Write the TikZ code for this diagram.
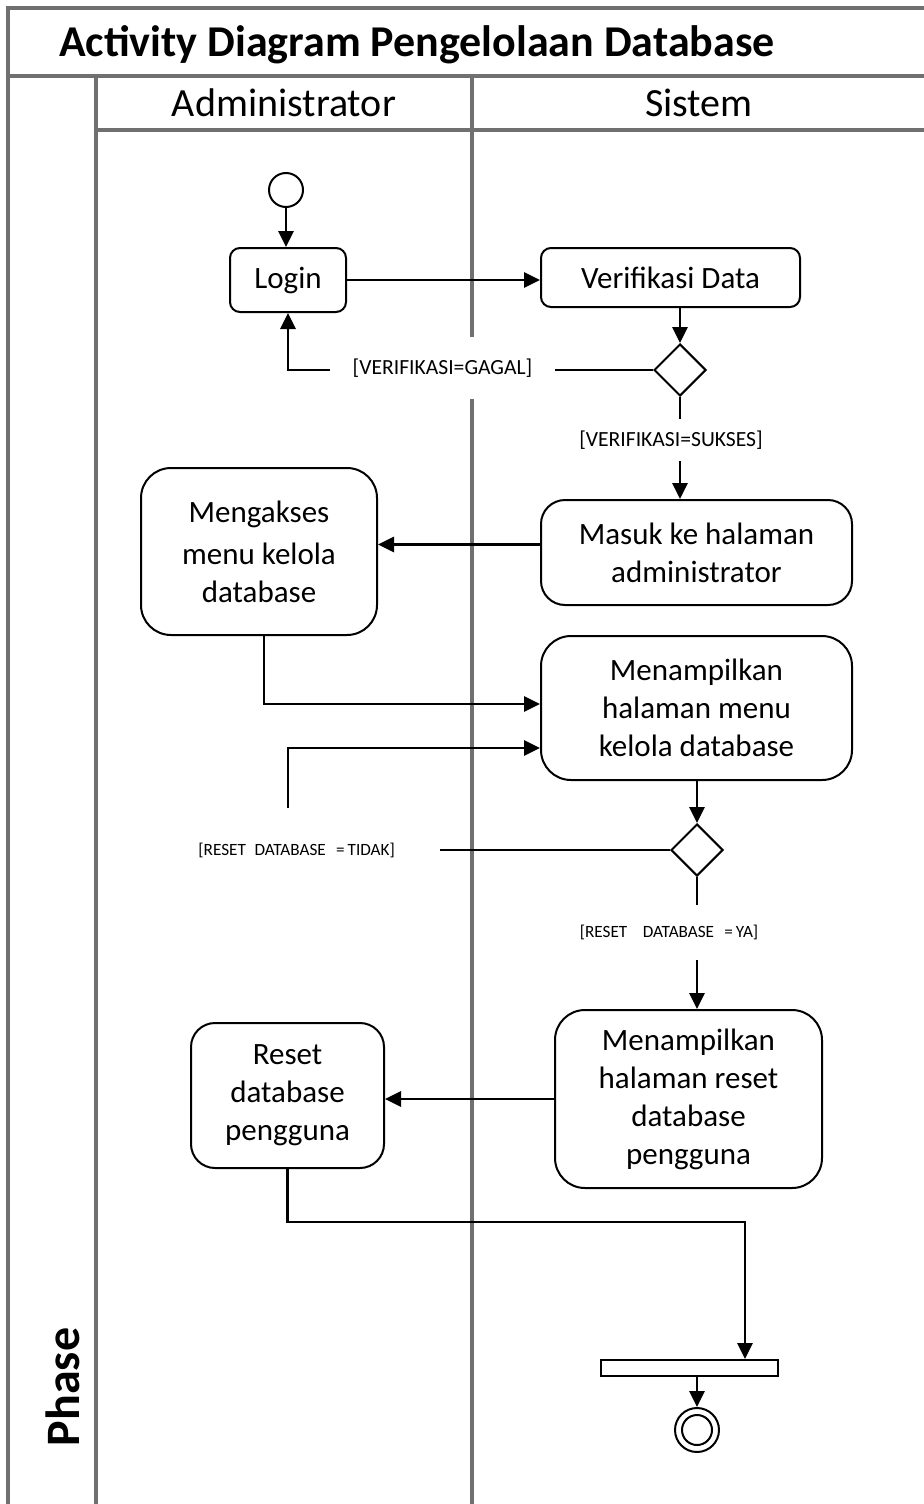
\documentclass[tikz,border=0pt]{standalone}
\usepackage{fontspec}
\setmainfont{Carlito}
\usetikzlibrary{shapes.geometric,arrows.meta}

\definecolor{framegray}{RGB}{112,112,112}

\tikzset{
  frameline/.style={draw=framegray, line width=1.6pt},
  actbox/.style={draw, line width=1pt, rectangle, align=center, font=\fontsize{15.5}{19}\selectfont},
  decision/.style={draw, line width=1pt, diamond, aspect=1, inner sep=0pt, minimum width=26pt, minimum height=26pt},
  flow/.style={line width=1.4pt},
  arr/.style={flow, -{Triangle[length=8pt,width=7.5pt]}},
  guard/.style={font=\fontsize{10.8}{12}\selectfont, fill=white, inner sep=0pt},
  guardsmall/.style={font=\fontsize{8.6}{10}\selectfont, fill=white, inner sep=0pt},
}

\begin{document}
\begin{tikzpicture}[x=0.5pt, y=-0.5pt]
  \useasboundingbox (0,0) rectangle (924,1504);

  % swimlane frame
  \draw[frameline] (924,8) -- (8,8) -- (8,1504);
  \draw[frameline] (8,76) -- (924,76);
  \draw[frameline] (96,76) -- (96,1504);
  \draw[frameline] (96,130) -- (924,130);
  \draw[frameline] (472,76) -- (472,1504);

  \node[anchor=west, font=\fontsize{22}{25}\selectfont\bfseries] (title) at (52,45) {Activity Diagram Pengelolaan Database};
  \node[font=\fontsize{20}{24}\selectfont] (laneA) at (284,103) {Administrator};
  \node[font=\fontsize{20}{24}\selectfont] (laneS) at (699,103) {Sistem};
  \node[rotate=90, font=\fontsize{24}{28}\selectfont\bfseries] (phase) at (63,1387) {Phase};

  % activities
  \node[draw, line width=1pt, circle, minimum size=17pt, inner sep=0pt] (start) at (286,190) {};
  \node[actbox, rounded corners=5pt, minimum width=58pt, minimum height=32pt] (login) at (288,280) {Login};
  \node[actbox, rounded corners=5pt, minimum width=129.5pt, minimum height=29.5pt] (verif) at (670.5,277.5) {Verifikasi Data};
  \node[decision] (d1) at (680,370) {};
  \node[actbox, rounded corners=12pt, minimum width=155.5pt, minimum height=52.5pt] (masuk) at (696.5,552.5) {Masuk ke halaman\\administrator};
  \node[actbox, rounded corners=15pt, minimum width=118pt, minimum height=83.5pt] (akses) at (259,551.5) {Mengakses\\[2pt]menu kelola\\database};
  \node[actbox, rounded corners=15pt, minimum width=155.5pt, minimum height=72pt] (menu) at (696.5,708) {Menampilkan\\halaman menu\\kelola database};
  \node[decision] (d2) at (697,850) {};
  \node[actbox, rounded corners=15pt, minimum width=133.5pt, minimum height=89pt] (resetpage) at (688.5,1099) {Menampilkan\\halaman reset\\database\\pengguna};
  \node[actbox, rounded corners=12pt, minimum width=96.5pt, minimum height=72.5pt] (reset) at (287.5,1095.5) {Reset\\database\\pengguna};
  \node[draw, line width=1pt, rectangle, minimum width=88.5pt, minimum height=8pt, inner sep=0pt] (bar) at (689.5,1368) {};
  \node[draw, line width=1pt, circle, minimum size=22pt, inner sep=0pt] (final) at (697,1430) {};
  \node[draw, line width=1pt, circle, minimum size=15pt, inner sep=0pt] (finalin) at (697,1430) {};

  % flows
  \draw[arr] (start.south) -- (start.south |- login.north);
  \draw[arr] (login.east) -- (login.east -| verif.west);
  \draw[arr] (d1.north |- verif.south) -- (d1.north);
  \draw[arr] (d1.west) -| (login.south);
  \node[guard, minimum width=112.5pt, minimum height=31pt] (gagal) at (442.5,368) {[VERIFIKASI=GAGAL]};
  \draw[arr] (d1.south) -- (d1.south |- masuk.north);
  \node[guard, minimum height=21pt, inner xsep=3pt] (sukses) at (671,440) {[VERIFIKASI=SUKSES]};
  \draw[arr] ([yshift=4pt]masuk.west) -- ([yshift=4pt]masuk.west -| akses.east);
  \draw[arr] ([xshift=2.5pt]akses.south) |- ([yshift=2pt]menu.west);
  \draw[arr] (menu.south -| d2.north) -- (d2.north);

  \coordinate (tidakA) at (440,850);
  \coordinate (tidakB) at (288,808);
  \draw[flow] (d2.west) -- (tidakA);
  \draw[arr] (tidakB) |- ([yshift=-20pt]menu.west);
  \node[guardsmall, anchor=west] (tidak) at (198,850) {[RESET\hspace{0.5em}DATABASE\hspace{0.6em}=\,TIDAK]};

  \draw[arr] (d2.south) -- (d2.south |- resetpage.north);
  \node[guardsmall, minimum height=27.5pt, inner xsep=3pt] (ya) at (669,932) {[RESET\hspace{0.9em}DATABASE\hspace{0.6em}=\,YA]};

  \draw[arr] (resetpage.west) -- (resetpage.west -| reset.east);
  \coordinate (join) at (745,1222);
  \draw[arr] (reset.south) |- (join) -- (join |- bar.north);
  \draw[arr] (bar.south -| final.north) -- (final.north);
\end{tikzpicture}
\end{document}
